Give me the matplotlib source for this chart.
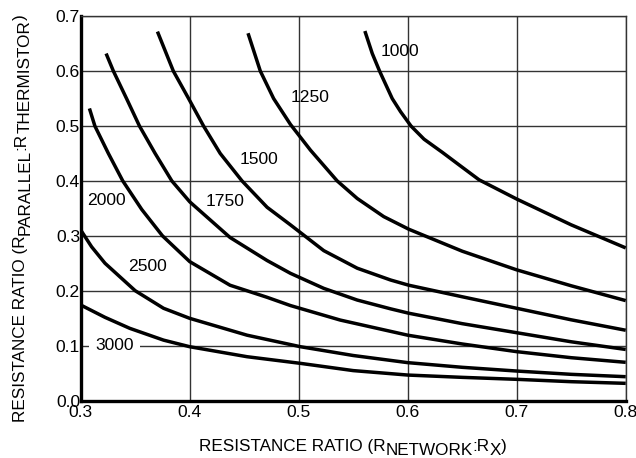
import matplotlib
matplotlib.use('Agg')
import matplotlib.pyplot as plt

plt.rcParams['font.family'] = ['Liberation Sans', 'DejaVu Sans']
plt.rcParams['font.size'] = 12.3

# curves, one pair of lists per resistance value
x_1000 = [0.5607, 0.5675, 0.5742, 0.5858, 0.5935, 0.603, 0.615, 0.6318, 0.6486, 0.6655, 0.70, 0.75, 0.80]
y_1000 = [0.673, 0.632, 0.600, 0.550, 0.526, 0.500, 0.476, 0.452, 0.427, 0.402, 0.367, 0.320, 0.278]

x_1250 = [0.4535, 0.4648, 0.477, 0.4924, 0.5108, 0.5353, 0.5537, 0.578, 0.601, 0.65, 0.70, 0.75, 0.80]
y_1250 = [0.669, 0.600, 0.550, 0.503, 0.456, 0.400, 0.368, 0.335, 0.312, 0.272, 0.238, 0.209, 0.182]

x_1500 = [0.3704, 0.385, 0.399, 0.4127, 0.428, 0.448, 0.471, 0.4924, 0.523, 0.5537, 0.5843, 0.601, 0.65, 0.70, 0.75, 0.80]
y_1500 = [0.672, 0.600, 0.550, 0.500, 0.450, 0.400, 0.352, 0.320, 0.273, 0.241, 0.2195, 0.210, 0.189, 0.168, 0.147, 0.128]

x_1750 = [0.3233, 0.330, 0.3423, 0.3539, 0.3683, 0.3836, 0.40, 0.437, 0.471, 0.4924, 0.523, 0.5537, 0.5843, 0.601, 0.65, 0.70, 0.75, 0.80]
y_1750 = [0.632, 0.600, 0.549, 0.500, 0.450, 0.400, 0.362, 0.297, 0.255, 0.2317, 0.2043, 0.183, 0.167, 0.159, 0.140, 0.1235, 0.107, 0.093]

x_2000 = [0.308, 0.313, 0.3254, 0.3386, 0.356, 0.375, 0.40, 0.437, 0.471, 0.4924, 0.538, 0.60, 0.65, 0.70, 0.75, 0.80]
y_2000 = [0.532, 0.500, 0.450, 0.400, 0.348, 0.300, 0.253, 0.210, 0.188, 0.173, 0.1466, 0.119, 0.103, 0.089, 0.078, 0.0696]

x_2500 = [0.30, 0.310, 0.3223, 0.350, 0.376, 0.40, 0.4526, 0.5016, 0.55, 0.60, 0.65, 0.70, 0.75, 0.80]
y_2500 = [0.3106, 0.280, 0.250, 0.200, 0.168, 0.1497, 0.119, 0.098, 0.082, 0.069, 0.0605, 0.0537, 0.0477, 0.0434]

x_3000 = [0.30, 0.3223, 0.345, 0.376, 0.40, 0.4526, 0.5016, 0.55, 0.60, 0.65, 0.70, 0.75, 0.80]
y_3000 = [0.174, 0.1515, 0.1315, 0.110, 0.098, 0.0798, 0.0677, 0.0545, 0.0464, 0.0422, 0.0386, 0.0343, 0.0313]

curve_names = ['1000', '1250', '1500', '1750', '2000', '2500', '3000']
curves = [(x_1000, y_1000), (x_1250, y_1250), (x_1500, y_1500), (x_1750, y_1750),
          (x_2000, y_2000), (x_2500, y_2500), (x_3000, y_3000)]

xticks = [0.3, 0.4, 0.5, 0.6, 0.7, 0.8]
yticks = [0.0, 0.1, 0.2, 0.3, 0.4, 0.5, 0.6, 0.7]

fig = plt.figure(figsize=(6.36, 4.58), dpi=100)
ax = fig.add_axes([0.1269, 0.1255, 0.9838 - 0.1269, 0.9646 - 0.1255])

for xs, ys in curves:
    ax.plot(xs, ys, color='black', lw=2.5, solid_capstyle='butt',
            solid_joinstyle='round', zorder=3)

# curve labels
label_pos = {'1000': (0.5926, 0.635), '1250': (0.510, 0.552), '1500': (0.4632, 0.439),
             '1750': (0.4326, 0.362), '2000': (0.324, 0.365), '2500': (0.3616, 0.245),
             '3000': (0.331, 0.0998)}
for name in curve_names:
    lx, ly = label_pos[name]
    if name == '3000':
        ax.text(lx, ly, name, ha='center', va='center', fontsize=12.6, zorder=2.5,
                bbox=dict(boxstyle='square,pad=0.35', fc='white', ec='none'))
    else:
        ax.text(lx, ly, name, ha='center', va='center', fontsize=12.6, zorder=4)

ax.set_xlim(0.3, 0.8)
ax.set_ylim(0.0, 0.7)
ax.set_xticks(xticks)
ax.set_yticks(yticks)
ax.set_xticklabels([f'{v:.1f}' for v in xticks], fontsize=12.6)
ax.set_yticklabels([f'{v:.1f}' for v in yticks], fontsize=12.6)
ax.tick_params(length=0)
ax.tick_params(axis='x', pad=3.5)
ax.tick_params(axis='y', pad=0.5)
ax.grid(True, color='#333333', lw=1.0)
ax.set_axisbelow(True)

for s in ['top', 'right']:
    ax.spines[s].set_linewidth(1.0)
    ax.spines[s].set_color('#333333')
for s in ['left', 'bottom']:
    ax.spines[s].set_linewidth(2.4)
    ax.spines[s].set_color('black')

# x axis title with lowered subscripts
xbase = 1 - 450.7 / 458
t = fig.text(199 / 636, xbase, 'RESISTANCE RATIO (R', ha='left', va='baseline')
for piece, drop in [('NETWORK', -3), (':R', 0), ('X', -3), (')', 0)]:
    t = ax.annotate(piece, xy=(1, xbase), xycoords=(t, 'figure fraction'),
                    xytext=(0, drop), textcoords='offset points',
                    ha='left', va='baseline')

# y axis title, rotated, subscripts shifted to the right
ybase = 25 / 636
t = fig.text(ybase, 1 - 421.7 / 458, 'RESISTANCE RATIO (R', rotation=90,
             rotation_mode='anchor', ha='left', va='baseline')
for piece, drop in [('PARALLEL', 3), (':R', 0), ('THERMISTOR', 3), (')', 0)]:
    t = ax.annotate(piece, xy=(ybase, 1), xycoords=('figure fraction', t),
                    xytext=(drop, 0), textcoords='offset points',
                    rotation=90, rotation_mode='anchor', ha='left', va='baseline')

fig.savefig('out.png', dpi=100)
